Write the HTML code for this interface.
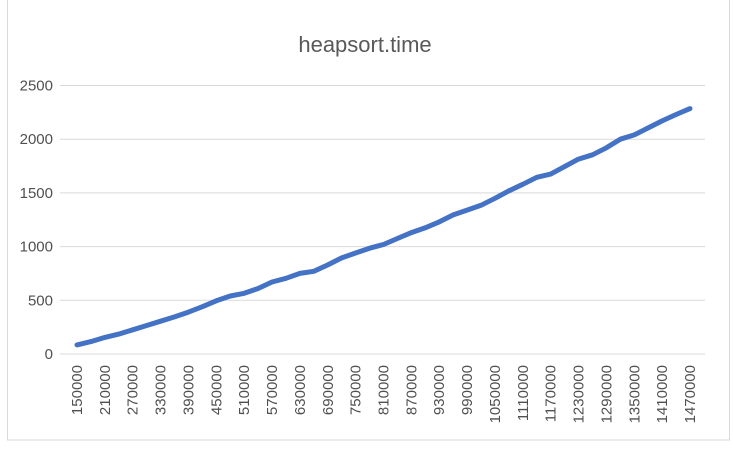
<!DOCTYPE html>
<html><head><meta charset="utf-8"><style>
body{margin:0;background:#fff;}
svg{display:block;font-family:"Liberation Sans",sans-serif;}
</style></head><body>
<svg id="chart" width="733" height="449">
<rect x="7.5" y="-1" width="722" height="441" fill="#fff" stroke="#d9d9d9"/>
<text x="365" y="52" text-anchor="middle" font-size="22" fill="#595959">heapsort.time</text>
<g id="grid"></g><g id="ylab"></g><g id="xlab"></g>
<path id="line" fill="none" stroke="#4472c4" stroke-width="5" stroke-linejoin="round" stroke-linecap="round"/>
</svg>
<script>
const categories=[];for(let c=150000;c<=1470000;c+=30000)categories.push(c);
const values=[85,115,155,185,225,265,305,345,390,440,495,540,565,610,670,705,750,770,830,895,940,985,1020,1075,1130,1175,1230,1295,1340,1385,1450,1520,1580,1645,1675,1745,1815,1855,1920,2000,2040,2105,2170,2230,2285];
const yTicks=[0,500,1000,1500,2000,2500];
const ns="http://www.w3.org/2000/svg";
const y=v=>354-v*(268.5/2500);
const x=i=>77+i*(613/(categories.length-1));
const grid=document.getElementById('grid'),yl=document.getElementById('ylab'),xl=document.getElementById('xlab');
yTicks.forEach(t=>{
 const l=document.createElementNS(ns,'line');
 l.setAttribute('x1',60);l.setAttribute('x2',705);l.setAttribute('y1',y(t));l.setAttribute('y2',y(t));
 l.setAttribute('stroke','#d9d9d9');l.setAttribute('stroke-width','1');
 
 
 grid.appendChild(l);
 const tx=document.createElementNS(ns,'text');
 tx.setAttribute('x',53);tx.setAttribute('y',y(t)+5);tx.setAttribute('text-anchor','end');
 tx.setAttribute('font-size','15');tx.setAttribute('fill','#505050');tx.textContent=t;
 
 
 yl.appendChild(tx);
});
categories.forEach((c,i)=>{
 if(i%2)return;
 const tx=document.createElementNS(ns,'text');
 const xx=x(i)+5,yy=365;
 tx.setAttribute('transform','translate('+xx+','+yy+') rotate(-90)');
 tx.setAttribute('text-anchor','end');tx.setAttribute('font-size','15');tx.setAttribute('fill','#505050');
 tx.textContent=c;
 
 
 xl.appendChild(tx);
});
document.getElementById('line').setAttribute('d',values.map((v,i)=>(i?'L':'M')+x(i).toFixed(1)+','+y(v).toFixed(1)).join(''));
</script>
</body></html>
